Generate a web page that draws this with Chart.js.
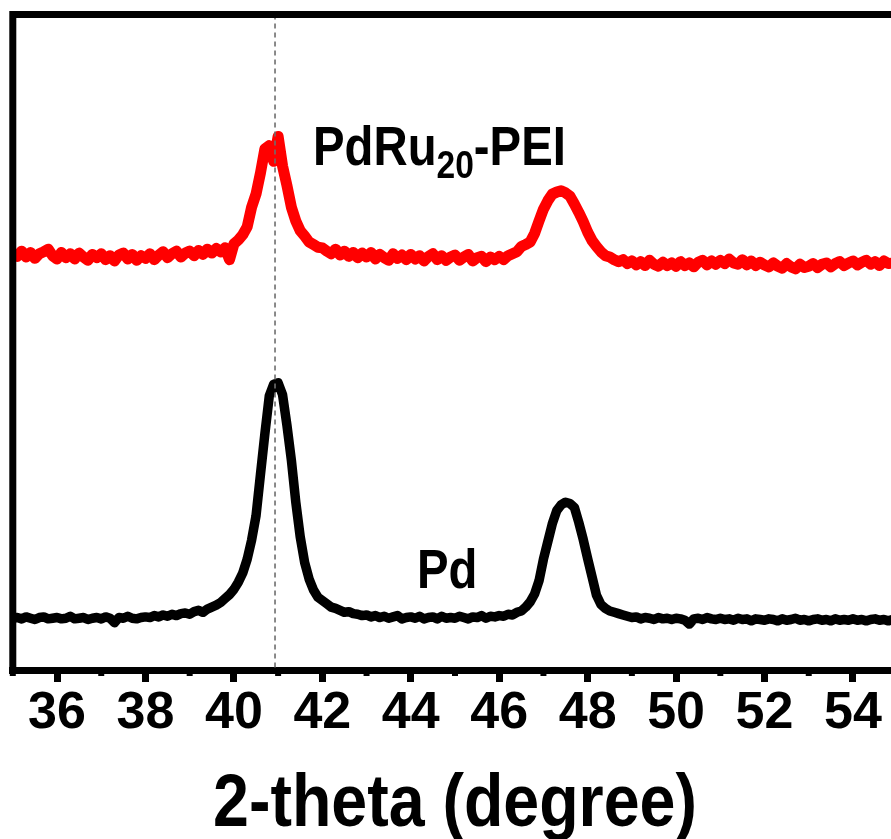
<!DOCTYPE html>
<html>
<head>
<meta charset="utf-8">
<title>XRD patterns</title>
<script src="https://cdn.jsdelivr.net/npm/chart.js@4.4.0/dist/chart.umd.min.js"></script>
<style>
  html, body { margin: 0; padding: 0; background: #fff; }
  .chart-wrap { position: relative; width: 891px; height: 839px; }
</style>
</head>
<body>
<div class="chart-wrap"><canvas id="xrdChart"></canvas></div>
<script>
// 2-theta grid (degree)
const twoTheta = [
  35.0, 35.1, 35.2, 35.3, 35.4, 35.5, 35.6, 35.7, 35.8, 35.9,
  36.0, 36.1, 36.2, 36.3, 36.4, 36.5, 36.6, 36.7, 36.8, 36.9,
  37.0, 37.1, 37.2, 37.3, 37.4, 37.5, 37.6, 37.7, 37.8, 37.9,
  38.0, 38.1, 38.2, 38.3, 38.4, 38.5, 38.6, 38.7, 38.8, 38.9,
  39.0, 39.1, 39.2, 39.3, 39.4, 39.5, 39.6, 39.7, 39.8, 39.9,
  40.0, 40.1, 40.2, 40.3, 40.4, 40.5, 40.6, 40.7, 40.8, 40.9,
  41.0, 41.1, 41.2, 41.3, 41.4, 41.5, 41.6, 41.7, 41.8, 41.9,
  42.0, 42.1, 42.2, 42.3, 42.4, 42.5, 42.6, 42.7, 42.8, 42.9,
  43.0, 43.1, 43.2, 43.3, 43.4, 43.5, 43.6, 43.7, 43.8, 43.9,
  44.0, 44.1, 44.2, 44.3, 44.4, 44.5, 44.6, 44.7, 44.8, 44.9,
  45.0, 45.1, 45.2, 45.3, 45.4, 45.5, 45.6, 45.7, 45.8, 45.9,
  46.0, 46.1, 46.2, 46.3, 46.4, 46.5, 46.6, 46.7, 46.8, 46.9,
  47.0, 47.1, 47.2, 47.3, 47.4, 47.5, 47.6, 47.7, 47.8, 47.9,
  48.0, 48.1, 48.2, 48.3, 48.4, 48.5, 48.6, 48.7, 48.8, 48.9,
  49.0, 49.1, 49.2, 49.3, 49.4, 49.5, 49.6, 49.7, 49.8, 49.9,
  50.0, 50.1, 50.2, 50.3, 50.4, 50.5, 50.6, 50.7, 50.8, 50.9,
  51.0, 51.1, 51.2, 51.3, 51.4, 51.5, 51.6, 51.7, 51.8, 51.9,
  52.0, 52.1, 52.2, 52.3, 52.4, 52.5, 52.6, 52.7, 52.8, 52.9,
  53.0, 53.1, 53.2, 53.3, 53.4, 53.5, 53.6, 53.7, 53.8, 53.9,
  54.0, 54.1, 54.2, 54.3, 54.4, 54.5, 54.6, 54.7, 54.8, 54.9
];

// PdRu20-PEI pattern (offset, a.u.)
const pdRuPei = [
  63.5, 63.1, 63.9, 63.0, 63.7, 62.8, 63.5, 63.8, 64.2, 63.2,
  62.7, 63.7, 62.9, 63.5, 62.7, 63.6, 63.0, 62.5, 63.4, 62.9,
  63.5, 62.6, 63.2, 62.4, 63.3, 63.6, 62.7, 63.4, 62.5, 63.2,
  62.8, 63.5, 62.6, 63.3, 63.8, 62.9, 63.5, 63.9, 63.0, 63.6,
  63.9, 63.2, 64.0, 63.4, 64.2, 63.6, 64.3, 63.8, 64.4, 62.6,
  65.0, 65.6, 66.4, 67.6, 70.6, 72.6, 75.8, 79.5, 80.0, 77.6,
  81.4, 76.9, 73.9, 70.6, 68.5, 67.0, 66.2, 65.3, 64.9, 64.5,
  64.4, 63.9, 63.5, 64.2, 63.3, 63.9, 63.1, 63.7, 62.9, 63.6,
  63.0, 63.7, 62.7, 63.4, 62.9, 62.5, 63.5, 62.8, 63.3, 62.6,
  63.4, 62.7, 63.2, 62.4, 63.1, 63.5, 62.6, 63.2, 62.5, 63.0,
  63.3, 62.5, 63.0, 63.4, 62.4, 62.9, 63.1, 62.3, 63.0, 62.6,
  63.1, 62.6, 63.2, 63.5, 63.8, 64.6, 64.9, 65.3, 66.6, 68.5,
  70.3, 71.6, 72.6, 72.9, 73.1, 72.8, 72.3, 71.1, 69.8, 68.4,
  66.8, 65.5, 64.6, 63.8, 63.2, 63.0, 62.6, 62.3, 62.6, 62.0,
  62.4, 61.8, 62.3, 61.7, 62.5, 61.9, 61.6, 62.2, 61.7, 62.1,
  61.6, 62.3, 61.7, 62.1, 61.5, 62.2, 62.5, 61.8, 62.4, 61.9,
  62.5, 62.0, 62.7, 62.1, 61.9, 62.6, 61.8, 62.4, 61.7, 62.2,
  61.8, 61.5, 62.1, 61.6, 61.3, 62.0, 61.5, 61.2, 61.9, 61.4,
  61.6, 62.0, 61.4, 61.9, 62.1, 61.5, 62.0, 62.3, 61.7, 62.1,
  62.4, 61.8, 62.2, 62.5, 61.9, 62.3, 61.7, 62.4, 62.0, 62.1
];

// Pd pattern (a.u.)
const pd = [
  7.9, 8.0, 7.8, 8.1, 7.9, 7.7, 8.0, 8.1, 7.8, 7.9,
  8.0, 7.8, 7.9, 8.2, 7.8, 7.9, 8.0, 7.7, 7.9, 8.0,
  7.8, 8.1, 7.9, 7.2, 8.0, 7.9, 8.2, 7.9, 7.8, 8.0,
  8.1, 8.0, 8.3, 8.1, 8.4, 8.2, 8.5, 8.3, 8.6, 8.7,
  8.5, 8.9, 9.1, 8.8, 9.3, 9.6, 9.9, 10.3, 10.9, 11.5,
  12.3, 13.4, 14.8, 16.9, 19.8, 23.5, 29.8, 36.0, 41.8, 43.6,
  43.8, 42.0, 37.3, 32.0, 25.6, 20.3, 16.4, 13.9, 12.2, 11.1,
  10.6, 10.1, 9.6, 9.4, 9.1, 8.8, 8.9, 8.6, 8.5, 8.3,
  8.4, 8.1, 8.3, 8.0, 8.2, 7.9, 8.1, 8.3, 7.8, 8.0,
  8.1, 7.9, 8.2, 7.8, 8.0, 8.1, 7.8, 8.2, 7.9, 8.0,
  7.9, 8.2, 8.0, 7.8, 8.1, 8.0, 8.3, 7.9, 8.2, 8.1,
  8.3, 8.2, 8.5, 8.4, 8.8, 9.0, 9.6, 10.4, 11.6, 13.6,
  16.9, 19.6, 22.3, 24.3, 25.2, 25.6, 25.4, 24.8, 22.5, 19.9,
  17.0, 14.2, 11.4, 10.0, 9.4, 9.0, 8.8, 8.6, 8.4, 8.2,
  8.0, 8.1, 7.8, 8.0, 7.9, 7.7, 8.0, 7.8, 7.9, 7.7,
  7.9, 7.8, 7.6, 7.0, 7.8, 7.9, 7.7, 8.0, 7.8, 7.7,
  7.9, 7.7, 7.8, 7.6, 7.9, 7.7, 7.8, 7.5, 7.8, 7.7,
  7.6, 7.8, 7.7, 7.5, 7.8, 7.6, 7.7, 7.9, 7.6, 7.7,
  7.5, 7.7, 7.8, 7.6, 7.7, 7.5, 7.8, 7.6, 7.7, 7.6,
  7.8, 7.6, 7.7, 7.5, 7.7, 7.8, 7.6, 7.7, 7.5, 7.7
];

const xTicks = [36, 38, 40, 42, 44, 46, 48, 50, 52, 54];
const xMinorTicks = [35, 37, 39, 41, 43, 45, 47, 49, 51, 53];
const refLine = 40.93;
const xTitle = "2-theta (degree)";

const FONT = "'Liberation Sans', Arial, Helvetica, sans-serif";
Chart.defaults.font.family = FONT;

// text in the figure is a bit narrower than the stock font
function narrowText(ctx, text, x, y, size, align) {
  ctx.save();
  ctx.font = "bold " + size + "px " + FONT;
  ctx.textAlign = align || "left";
  ctx.textBaseline = "alphabetic";
  ctx.fillStyle = "#000";
  ctx.translate(x, y);
  ctx.scale(0.86, 1);
  ctx.fillText(text, 0, 0);
  const w = ctx.measureText(text).width * 0.86;
  ctx.restore();
  return w;
}

const framePlugin = {
  id: "frame",
  afterDatasetsDraw(chart) {
    const { ctx, chartArea: a, scales } = chart;
    const xs = scales.x;
    const ys = scales.y;

    ctx.save();
    // dashed guide at the Pd(111) position
    const gx = xs.getPixelForValue(refLine);
    ctx.strokeStyle = "#6e6e6e";
    ctx.lineWidth = 1.6;
    ctx.setLineDash([5, 4]);
    ctx.beginPath();
    ctx.moveTo(gx, a.top);
    ctx.lineTo(gx, a.bottom);
    ctx.stroke();
    ctx.setLineDash([]);

    // left and top frame
    ctx.strokeStyle = "#000";
    ctx.lineWidth = 7;
    ctx.lineJoin = "miter";
    ctx.beginPath();
    ctx.moveTo(a.left, a.bottom + 3);
    ctx.lineTo(a.left, a.top);
    ctx.lineTo(a.right + 5, a.top);
    ctx.stroke();

    // minor ticks
    ctx.lineWidth = 6;
    xMinorTicks.forEach(function (v) {
      const px = xs.getPixelForValue(v);
      ctx.beginPath();
      ctx.moveTo(px, a.bottom);
      ctx.lineTo(px, a.bottom + 6);
      ctx.stroke();
    });
    ctx.restore();

    // series labels
    let lx = xs.getPixelForValue(41.79);
    const ly = ys.getPixelForValue(77.0);
    lx += narrowText(ctx, "PdRu", lx, ly, 55);
    lx += narrowText(ctx, "20", lx, ly + 13, 39);
    narrowText(ctx, "-PEI", lx, ly, 55);

    narrowText(ctx, "Pd", xs.getPixelForValue(44.14), ys.getPixelForValue(12.5), 55);

    // axis title
    const tx = (xs.getPixelForValue(35) + xs.getPixelForValue(55)) / 2;
    narrowText(ctx, xTitle, tx, chart.height - 13, 75, "center");
  }
};

new Chart(document.getElementById("xrdChart"), {
  type: "line",
  data: {
    datasets: [
      {
        label: "PdRu20-PEI",
        data: pdRuPei.map(function (v, i) { return { x: twoTheta[i], y: v }; }),
        borderColor: "#ff0000",
        borderWidth: 11,
        pointRadius: 0,
        tension: 0,
        fill: false,
        borderJoinStyle: "round",
        borderCapStyle: "round",
      },
      {
        label: "Pd",
        data: pd.map(function (v, i) { return { x: twoTheta[i], y: v }; }),
        borderColor: "#000000",
        borderWidth: 9.5,
        pointRadius: 0,
        tension: 0,
        fill: false,
        borderJoinStyle: "round",
        borderCapStyle: "round",
      },
    ],
  },
  options: {
    responsive: true,
    maintainAspectRatio: false,
    animation: false,
    layout: { padding: { left: 12.8, top: 14.5, right: 0, bottom: 0 } },
    plugins: {
      legend: { display: false },
      tooltip: { enabled: false },
    },
    scales: {
      x: {
        type: "linear",
        min: 35,
        max: 54.86,
        afterBuildTicks: function (scale) {
          scale.ticks = xTicks.map(function (v) { return { value: v }; });
        },
        afterFit: function (scale) {
          scale.height = 169;
        },
        grid: {
          display: true,
          drawOnChartArea: false,
          drawTicks: true,
          tickLength: 12,
          tickWidth: 7,
          tickColor: "#000",
        },
        border: { display: true, color: "#000", width: 7 },
        ticks: {
          color: "#000",
          padding: 0,
          maxRotation: 0,
          autoSkip: false,
          font: { size: 52, weight: "bold" },
        },
      },
      y: {
        display: false,
        min: 0,
        max: 100,
      },
    },
  },
  plugins: [framePlugin],
});
</script>
</body>
</html>
